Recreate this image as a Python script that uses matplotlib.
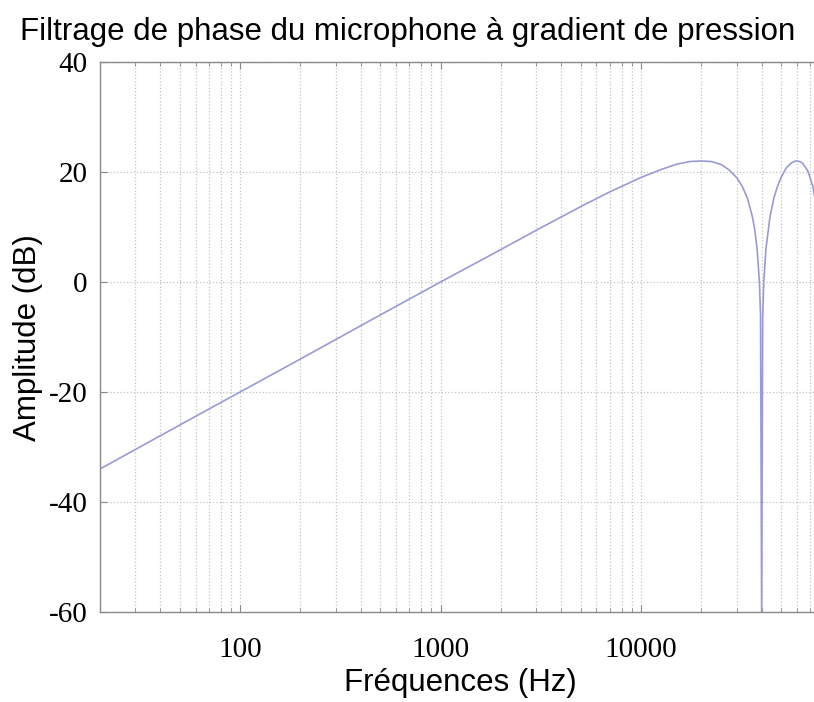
import numpy as np
import matplotlib
matplotlib.use("Agg")
import matplotlib.pyplot as plt
from matplotlib.ticker import LogLocator, FixedLocator, NullFormatter

plt.rcParams["axes.unicode_minus"] = False

# Réponse en amplitude relevée (fréquence en Hz, niveau en dB)
freqs = [20, 50, 100, 200, 500, 1000, 2000, 3000, 5000, 7000,
         10000, 12500, 15000, 17500, 20000, 22500, 25000, 27500, 30000, 32000,
         34000, 36000, 37000, 38000, 39000, 39500, 40000, 40500, 41000, 42000,
         44000, 46000, 48000, 50000, 53000, 56000, 58000, 60000, 62000, 64000,
         68000, 72000, 75000]
amp_db = [-34, -26, -20, -14, -6, 0, 5.9, 9.4, 13.7, 16.4,
          19, 20.4, 21.4, 21.9, 22, 21.9, 21.4, 20.4, 19, 17.4,
          15.2, 11.8, 9.4, 5.9, -0.1, -6.1, -60, -6.1, -0.1, 5.9,
          11.8, 15.2, 17.4, 19, 20.7, 21.6, 21.9, 22, 21.9, 21.6,
          20.2, 17.4, 13.7]

x_ticks = [100, 1000, 10000]
x_ticklabels = ["100", "1000", "10000"]
y_ticks = [-60, -40, -20, 0, 20, 40]

serif = "Liberation Serif"
sans = "Liberation Sans"

fig = plt.figure(figsize=(8.14, 7.02), dpi=100)
ax = fig.add_axes([100 / 814, 1 - 612 / 702, 1 - 100 / 814, (612 - 62) / 702])

ax.semilogx(freqs, amp_db, color="#9a9ad8", lw=1.2)

ax.set_xlim(20, 73000)
ax.set_ylim(-60, 40)

ax.xaxis.set_major_locator(FixedLocator(x_ticks))
ax.set_xticklabels(x_ticklabels)
ax.xaxis.set_minor_locator(LogLocator(base=10, subs=np.arange(2, 10), numticks=20))
ax.xaxis.set_minor_formatter(NullFormatter())
ax.set_yticks(y_ticks)

ax.grid(True, which="both", axis="x", color="#c4c4c4", ls=":", lw=0.9)
ax.grid(True, which="major", axis="y", color="#c4c4c4", ls=":", lw=0.9)

ax.tick_params(axis="both", which="both", direction="in", color="#8a8a8a",
               top=True, right=False)
ax.tick_params(axis="both", which="major", length=5, width=0.8)
ax.tick_params(axis="x", which="minor", length=3, width=0.6)
ax.tick_params(axis="x", which="major", pad=18)
ax.tick_params(axis="y", which="major", pad=9)

for lab in ax.get_xticklabels() + ax.get_yticklabels():
    lab.set_fontfamily(serif)
    lab.set_fontsize(21)

for side in ("left", "bottom", "top"):
    ax.spines[side].set_color("#8a8a8a")
    ax.spines[side].set_linewidth(1.0)
ax.spines["right"].set_visible(False)

ax.set_xlabel("Fréquences (Hz)", fontfamily=sans, fontsize=22.5)
ax.xaxis.set_label_coords((460 - 100) / 714, -(668 - 612) / 550)
ax.set_ylabel("Amplitude (dB)", fontfamily=sans, fontsize=22.5)
ax.yaxis.set_label_coords(-(100 - 43) / 714, (612 - 338) / 550)

fig.text(408 / 814, 1 - 32 / 702, "Filtrage de phase du microphone à gradient de pression",
         ha="center", va="center", fontfamily=sans, fontsize=22.5)

fig.savefig("out.png", dpi=100, facecolor="white")
